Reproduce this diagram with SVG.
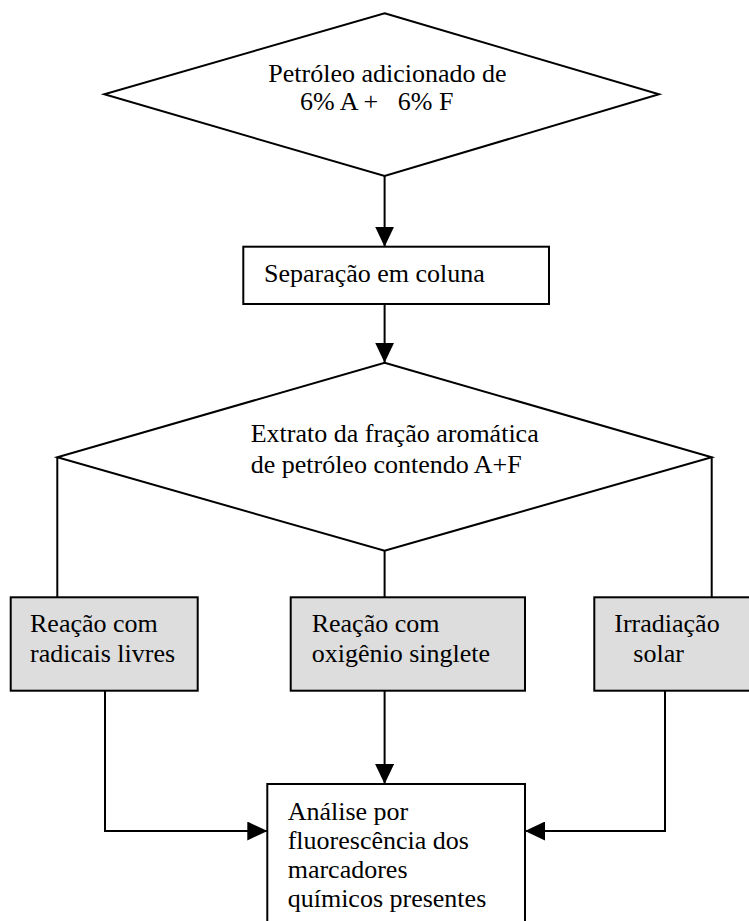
<svg xmlns="http://www.w3.org/2000/svg" width="749" height="921" viewBox="0 0 749 921">
  <style>
    .shape { fill: #ffffff; stroke: #000000; stroke-width: 2; }
    .gray { fill: #dddddd; stroke: #000000; stroke-width: 2; }
    .line { fill: none; stroke: #000000; stroke-width: 2; }
    text { font-family: "Liberation Serif", "Times New Roman", serif; font-size: 26px; fill: #000000; white-space: pre; }
  </style>
  <defs>
    <marker id="arrow" markerUnits="userSpaceOnUse" markerWidth="20" markerHeight="19" refX="20" refY="9.5" orient="auto" viewBox="0 0 20 19">
      <path d="M0,0 L20,9.5 L0,19 Z" fill="#000000"/>
    </marker>
  </defs>
  <rect x="0" y="0" width="749" height="921" fill="#ffffff"/>

  <g id="connectors">
    <line class="line" x1="384.6" y1="176" x2="384.6" y2="246.7" marker-end="url(#arrow)"/>
    <line class="line" x1="384.6" y1="304" x2="384.6" y2="362.7" marker-end="url(#arrow)"/>
    <line class="line" x1="57.3" y1="457.3" x2="57.3" y2="597.3"/>
    <line class="line" x1="384.6" y1="550.7" x2="384.6" y2="597.3"/>
    <line class="line" x1="711.7" y1="457.3" x2="711.7" y2="597.3"/>
    <line class="line" x1="384.6" y1="690.7" x2="384.6" y2="784" marker-end="url(#arrow)"/>
    <polyline class="line" points="105,690.7 105,831 267.3,831" marker-end="url(#arrow)"/>
    <polyline class="line" points="665,690.7 665,831 525,831" marker-end="url(#arrow)"/>
  </g>

  <g id="node-petroleo">
    <polygon class="shape" points="384.6,13.3 659,94.3 384.6,176 104.3,94.3"/>
    <text x="268.3" y="81.7">Petróleo adicionado de</text>
    <text x="300" y="110">6% A +   6% F</text>
  </g>

  <g id="node-separacao">
    <rect class="shape" x="243.3" y="246.7" width="305.7" height="57.3"/>
    <text x="264" y="281.7">Separação em coluna</text>
  </g>

  <g id="node-extrato">
    <polygon class="shape" points="384.6,362.7 711.7,457.3 384.6,550.7 57.3,457.3"/>
    <text x="250.7" y="441.7">Extrato da fração aromática</text>
    <text x="250.7" y="473.3">de petróleo contendo A+F</text>
  </g>

  <g id="node-radicais">
    <rect class="gray" x="10.7" y="597.3" width="187" height="93.4"/>
    <text x="30" y="631.7">Reação com</text>
    <text x="30" y="661.7">radicais livres</text>
  </g>

  <g id="node-oxigenio">
    <rect class="gray" x="290.7" y="597.3" width="234.3" height="93.4"/>
    <text x="311.7" y="631.7">Reação com</text>
    <text x="311.7" y="661.7">oxigênio singlete</text>
  </g>

  <g id="node-irradiacao">
    <rect class="gray" x="594.3" y="597.3" width="170" height="93.4"/>
    <text x="614.3" y="631.7">Irradiação</text>
    <text x="633.3" y="661.7">solar</text>
  </g>

  <g id="node-analise">
    <rect class="shape" x="267.3" y="784" width="257.7" height="150"/>
    <text x="287.7" y="820">Análise por</text>
    <text x="287.7" y="849">fluorescência dos</text>
    <text x="287.7" y="877.5">marcadores</text>
    <text x="287.7" y="906.5">químicos presentes</text>
  </g>
</svg>
